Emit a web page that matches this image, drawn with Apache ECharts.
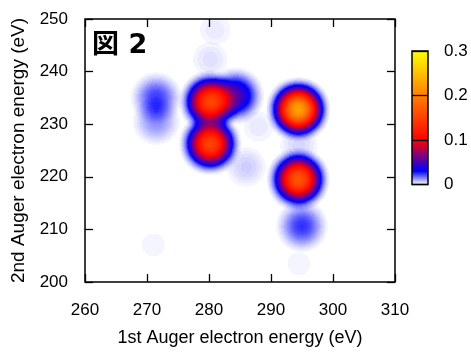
<!DOCTYPE html>
<html>
<head>
<meta charset="utf-8">
<script src="https://cdn.jsdelivr.net/npm/echarts@6/dist/echarts.min.js"></script>
</head>
<body style="margin: 0; background: #fff">
<div id="container" style="width: 471px; height: 352px"></div>
<script type="text/javascript">
    // coincidence peaks (1st / 2nd Auger energy in eV, strength)
    var firstAuger  = [271.5, 271.5, 280.2, 284.3, 280.2, 294.4, 294.4, 295.0,
                       280.2, 281.0, 294.5, 286.0, 271.0, 294.5, 288.0];
    var secondAuger = [235.3, 231.0, 234.6, 235.7, 226.8, 233.2, 220.2, 211.5,
                       242.5, 248.0, 226.5, 222.5, 208.0, 204.5, 230.0];
    var strength    = [0.026, 0.015, 0.165, 0.055, 0.165, 0.245, 0.180, 0.027,
                       0.005, 0.003, 0.006, 0.007, 0.002, 0.002, 0.003];

    var xRange = [260, 310];
    var yRange = [200, 250];
    var cbRange = [0, 0.3];

    // white -> blue -> red -> orange -> yellow, one entry per 0.01
    var palette = ['#ffffff', '#aaaaff', '#5555ff', '#0000ff', '#2400db', '#4900b6', '#6d0092',
        '#92006d', '#b60049', '#db0024', '#ff0000', '#ff0d00', '#ff1a00', '#ff2600', '#ff3300',
        '#ff4000', '#ff4d00', '#ff5900', '#ff6600', '#ff7300', '#ff8000', '#ff8d00', '#ff9900',
        '#ffa600', '#ffb300', '#ffbf00', '#ffcc00', '#ffd900', '#ffe600', '#fff200', '#ffff00'];

    var font = "'Liberation Sans', Arial, sans-serif";

    var points = [];
    for (var i = 0; i < firstAuger.length; i++) {
        points.push([firstAuger[i], secondAuger[i], strength[i]]);
    }

    // invisible region so the heatmap can use the geo blur renderer
    echarts.registerMap('plotArea', {
        type: 'FeatureCollection',
        features: [{
            type: 'Feature',
            properties: {name: 'area'},
            geometry: {
                type: 'Polygon',
                coordinates: [[[xRange[0], yRange[0]], [xRange[1], yRange[0]], [xRange[1], yRange[1]],
                    [xRange[0], yRange[1]], [xRange[0], yRange[0]]]]
            }
        }]
    });

    var dom = document.getElementById("container");
    var myChart = echarts.init(dom);

    var plotBox = {left: 85, right: 76, top: 19, bottom: 64};

    function frameTick() {
        return {inside: true, length: 8, lineStyle: {color: '#000', width: 1.3}};
    }

    var option = {
        backgroundColor: '#fff',
        animation: false,
        title: {
            text: '図 2',
            left: 86,
            top: 28,
            padding: [4, 6, 5, 6],
            backgroundColor: '#fff',
            textStyle: {
                fontSize: 27,
                fontWeight: 'bold',
                color: '#000',
                fontFamily: "'DejaVu Sans', 'Noto Sans CJK JP', sans-serif"
            }
        },
        geo: {
            map: 'plotArea',
            left: plotBox.left,
            right: plotBox.right,
            top: plotBox.top,
            bottom: plotBox.bottom,
            boundingCoords: [[xRange[0], yRange[1]], [xRange[1], yRange[0]]],
            roam: false,
            silent: true,
            label: {show: false},
            itemStyle: {areaColor: 'rgba(0,0,0,0)', borderWidth: 0},
            emphasis: {disabled: true}
        },
        visualMap: {
            type: 'continuous',
            seriesIndex: 0,
            dimension: 2,
            min: cbRange[0],
            max: cbRange[1],
            calculable: false,
            left: 412,
            top: 51,
            itemWidth: 16,
            itemHeight: 133.5,
            padding: 0,
            text: null,
            inRange: {color: palette}
        },
        grid: [
            {left: plotBox.left, right: plotBox.right, top: plotBox.top, bottom: plotBox.bottom,
                show: true, borderColor: '#000', borderWidth: 1.5, z: 10},
            {left: 412, top: 51, width: 16, height: 133.5,
                show: true, borderColor: '#000', borderWidth: 1.5, z: 10}
        ],
        xAxis: [
            {
                gridIndex: 0, type: 'value', min: xRange[0], max: xRange[1], interval: 10,
                position: 'bottom', z: 10,
                axisLine: {show: false},
                axisTick: frameTick(),
                splitLine: {show: false},
                axisLabel: {color: '#000', fontSize: 17, margin: 20, fontFamily: font},
                name: '1st Auger electron energy (eV)',
                nameLocation: 'middle',
                nameGap: 47,
                nameTextStyle: {color: '#000', fontSize: 18, fontFamily: font}
            },
            {
                gridIndex: 0, type: 'value', min: xRange[0], max: xRange[1], interval: 10,
                position: 'top', z: 10,
                axisLine: {show: false},
                axisTick: frameTick(),
                splitLine: {show: false},
                axisLabel: {show: false}
            },
            {gridIndex: 1, type: 'value', min: 0, max: 1, show: false}
        ],
        yAxis: [
            {
                gridIndex: 0, type: 'value', min: yRange[0], max: yRange[1], interval: 10,
                position: 'left', z: 10,
                axisLine: {show: false},
                axisTick: frameTick(),
                splitLine: {show: false},
                axisLabel: {color: '#000', fontSize: 17, margin: 17, fontFamily: font},
                name: '2nd Auger electron energy (eV)',
                nameLocation: 'middle',
                nameGap: 56,
                nameTextStyle: {color: '#000', fontSize: 19, fontFamily: font}
            },
            {
                gridIndex: 0, type: 'value', min: yRange[0], max: yRange[1], interval: 10,
                position: 'right', z: 10,
                axisLine: {show: false},
                axisTick: frameTick(),
                splitLine: {show: false},
                axisLabel: {show: false}
            },
            {
                gridIndex: 1, type: 'value', min: cbRange[0], max: cbRange[1], interval: 0.1,
                position: 'right', z: 10,
                axisLine: {show: false},
                axisTick: {show: false},
                splitLine: {show: true, lineStyle: {color: '#000', width: 1.3}},
                axisLabel: {color: '#000', fontSize: 17, margin: 16, fontFamily: font}
            }
        ],
        series: [{
            type: 'heatmap',
            coordinateSystem: 'geo',
            geoIndex: 0,
            data: points,
            pointSize: 17,
            blurSize: 16,
            minOpacity: 1,
            maxOpacity: 1,
            silent: true
        }]
    };

    myChart.setOption(option);
</script>
</body>
</html>
